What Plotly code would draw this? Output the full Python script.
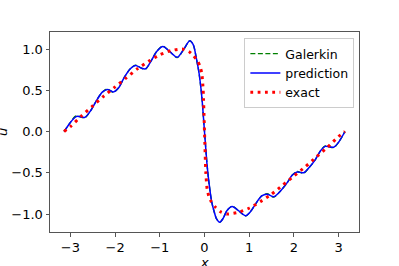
import plotly.graph_objects as go

# ---- data ----
pred_x = [-3.1416, -3.0, -2.9, -2.84, -2.68, -2.55, -2.4, -2.28, -2.17, -2.04, -1.92,
          -1.80, -1.66, -1.54, -1.42, -1.32, -1.2, -1.07, -0.93, -0.78, -0.61, -0.47,
          -0.33, -0.25, -0.18, -0.12, -0.06, 0.0,
          0.06, 0.10, 0.16, 0.21, 0.27, 0.34, 0.42, 0.50, 0.62, 0.76, 0.92, 1.03,
          1.14, 1.28, 1.40, 1.55, 1.70, 1.85, 1.96, 2.07, 2.22, 2.35, 2.48, 2.60,
          2.70, 2.89, 3.0, 3.1416]
pred_y = [0.0, 0.11, 0.17, 0.185, 0.17, 0.25, 0.39, 0.48, 0.51, 0.48, 0.53,
          0.65, 0.76, 0.80, 0.77, 0.76, 0.85, 0.97, 1.03, 0.97, 0.90, 0.99,
          1.10, 1.05, 0.88, 0.70, 0.42, 0.0,
          -0.42, -0.62, -0.85, -0.96, -1.06, -1.10, -1.05, -0.96, -0.91, -0.96, -1.02, -0.97,
          -0.88, -0.78, -0.76, -0.79, -0.72, -0.62, -0.53, -0.49, -0.50, -0.43, -0.34, -0.23,
          -0.18, -0.19, -0.13, 0.0]
galerkin_y = [0.0, 0.11, 0.18, 0.19, 0.165, 0.25, 0.39, 0.48, 0.515, 0.475, 0.53,
              0.65, 0.76, 0.805, 0.77, 0.755, 0.85, 0.97, 1.035, 0.97, 0.895, 0.99,
              1.10, 1.05, 0.88, 0.70, 0.42, 0.0,
              -0.42, -0.62, -0.85, -0.96, -1.06, -1.10, -1.05, -0.96, -0.905, -0.96, -1.025, -0.97,
              -0.88, -0.78, -0.755, -0.795, -0.72, -0.62, -0.53, -0.485, -0.505, -0.43, -0.34, -0.23,
              -0.175, -0.195, -0.13, 0.0]

exact_x = [-3.1416, -3.0, -2.75, -2.5, -2.25, -2.0, -1.75, -1.5, -1.25, -1.0, -0.75,
           -0.5, -0.35, -0.25, -0.15, -0.1, -0.06, -0.03, 0.0, 0.03, 0.06, 0.1, 0.15,
           0.25, 0.35, 0.5, 0.75, 1.0, 1.25, 1.5, 1.75, 2.0, 2.25, 2.5, 2.75, 3.0, 3.1416]
exact_y = [0.0, 0.06, 0.19, 0.31, 0.43, 0.54, 0.65, 0.76, 0.85, 0.93, 0.98,
           1.0, 0.97, 0.92, 0.85, 0.79, 0.70, 0.50, 0.0, -0.50, -0.70, -0.79, -0.85,
           -0.92, -0.97, -1.0, -0.98, -0.93, -0.85, -0.76, -0.65, -0.54, -0.43, -0.31, -0.19, -0.06, 0.0]

x_ticks = [-3, -2, -1, 0, 1, 2, 3]
x_tick_text = ["\u22123", "\u22122", "\u22121", "0", "1", "2", "3"]
y_ticks = [1.0, 0.5, 0.0, -0.5, -1.0]
y_tick_text = ["1.0", "0.5", "0.0", "\u22120.5", "\u22121.0"]

FONT = "DejaVu Sans"
AX = "#555555"

fig = go.Figure()
fig.add_trace(go.Scatter(x=pred_x, y=galerkin_y, mode="lines", name="Galerkin",
                         line=dict(color="#008000", width=1.4, dash="5px,2.5px", shape="spline", smoothing=0.8)))
fig.add_trace(go.Scatter(x=pred_x, y=pred_y, mode="lines", name="prediction",
                         line=dict(color="#0000ff", width=1.5, shape="spline", smoothing=0.8)))
fig.add_trace(go.Scatter(x=exact_x, y=exact_y, mode="lines", name="exact",
                         line=dict(color="#ff0000", width=3, dash="2.8px,4.5px", shape="spline", smoothing=0.6)))

fig.update_layout(
    width=399, height=266,
    margin=dict(l=50, r=40, t=32, b=34, autoexpand=False),
    paper_bgcolor="white", plot_bgcolor="white",
    font=dict(family=FONT, size=13, color="black"),
    showlegend=True,
    legend=dict(x=0.985, y=0.97, xanchor="right", yanchor="top",
                bgcolor="rgba(255,255,255,0.8)", bordercolor="#cccccc", borderwidth=1,
                font=dict(family=FONT, size=12.5), itemwidth=30,
                tracegroupgap=0),
)
fig.update_xaxes(range=[-3.456, 3.456], tickvals=x_ticks, ticktext=x_tick_text,
                 showgrid=False, zeroline=False, showline=True, linecolor=AX, linewidth=1,
                 mirror=True, ticks="outside", ticklen=3.5, tickcolor=AX, tickwidth=1,
                 tickfont=dict(family=FONT, size=13), automargin=False)
fig.update_yaxes(range=[-1.218, 1.206], tickvals=y_ticks, ticktext=y_tick_text,
                 showgrid=False, zeroline=False, showline=True, linecolor=AX, linewidth=1,
                 mirror=True, ticks="outside", ticklen=3.5, tickcolor=AX, tickwidth=1,
                 tickfont=dict(family=FONT, size=13), automargin=False)
fig.add_annotation(text="<i>u</i>", xref="paper", yref="paper", x=-48 / 309, y=0.5,
                   xanchor="center", yanchor="middle", showarrow=False, textangle=-90,
                   font=dict(family=FONT, size=13))
fig.add_annotation(text="<i>x</i>", xref="paper", yref="paper", x=0.5, y=-21 / 200,
                   xanchor="center", yanchor="top", showarrow=False,
                   font=dict(family=FONT, size=13))

fig.write_html("out.html", config={"displayModeBar": False},
               post_script="document.body.style.margin='0px';document.body.style.overflow='hidden';")
